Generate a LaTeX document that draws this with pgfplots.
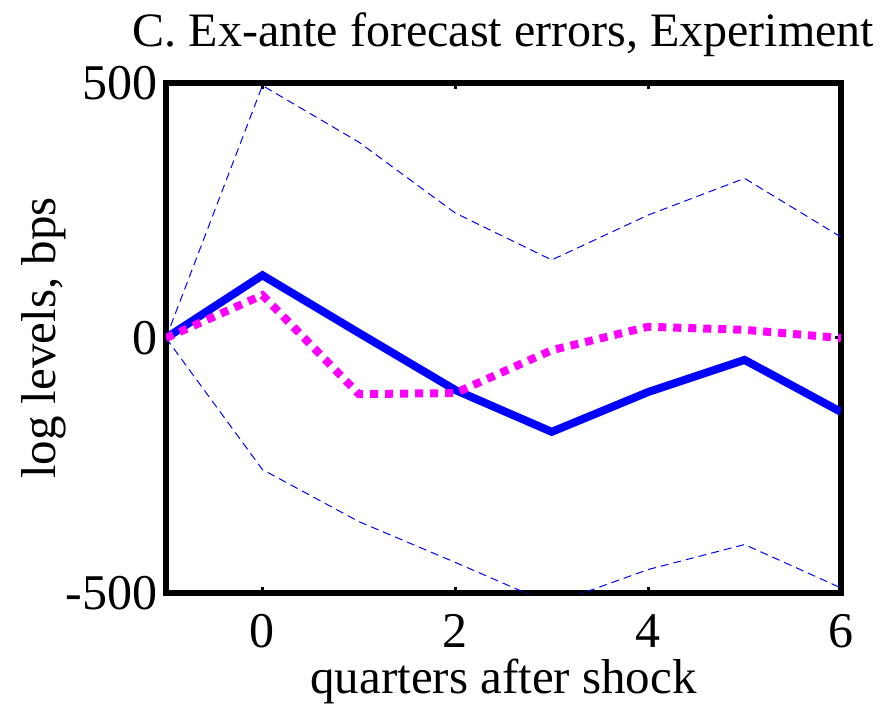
\documentclass[border=0pt]{standalone}
\usepackage{fontspec}
\setmainfont{Liberation Serif}
\usepackage{pgfplots}
\pgfplotsset{compat=1.18}

\definecolor{irfblue}{RGB}{0,0,255}
\definecolor{irfmagenta}{RGB}{255,0,255}

\begin{document}
\begin{tikzpicture}
\begin{axis}[
  name=ax,
  scale only axis,
  width=337.5pt, height=255pt,
  xmin=-1, xmax=6, ymin=-500, ymax=500,
  xtick={0,2,4,6},
  ytick={-500,0,500},
  yticklabels={-500,0,500},
  xticklabels={0,2,4,6},
  tick align=inside,
  major tick length=3pt,
  tick style={black, line width=1.5pt},
  axis line style={black, line width=3pt},
  ticklabel style={font=\fontsize{25}{29}\selectfont, inner sep=0pt},
  xticklabel style={anchor=base, yshift=-27pt},
  yticklabel style={anchor=east, xshift=-4pt},
  xlabel={quarters after shock},
  ylabel={log levels, bps},
  label style={font=\fontsize{24.5}{29}\selectfont, inner sep=0pt},
  xlabel style={at={(0.5,0)}, anchor=base, yshift=-50pt},
  ylabel style={at={(-0.1644,0.5)}, anchor=base},
  clip=true,
]
% upper band
\addplot[irfblue, line width=0.5pt, dash pattern=on 4pt off 2.5pt] coordinates {
  (-1,0) (0,495) (1,384) (2,245) (3,153) (4,241) (5,313) (6,198)
};
% lower band
\addplot[irfblue, line width=0.5pt, dash pattern=on 4pt off 2.5pt] coordinates {
  (-1,0) (0,-258) (1,-360) (2,-440) (3,-522) (4,-454) (5,-405) (6,-490)
};
% point estimate
\addplot[irfblue, line width=4pt, line join=miter] coordinates {
  (-1,0) (0,123) (1,10) (2,-102) (3,-184) (4,-106) (5,-43) (6,-145)
};
% model response
\addplot[irfmagenta, line width=4pt, dash pattern=on 4pt off 3.5pt] coordinates {
  (-1,0) (0,84) (1,-110) (2,-108) (3,-24) (4,22) (5,16) (6,0)
};
\end{axis}
\node[anchor=base, yshift=18pt, inner sep=0pt, font=\fontsize{24}{28}\selectfont]
  at (ax.north) {C. Ex-ante forecast errors, Experiment};
\pgfresetboundingbox
\path (ax.south west) ++(-83pt,-56pt) rectangle ++(440.5pt,352.5pt);
\end{tikzpicture}
\end{document}
